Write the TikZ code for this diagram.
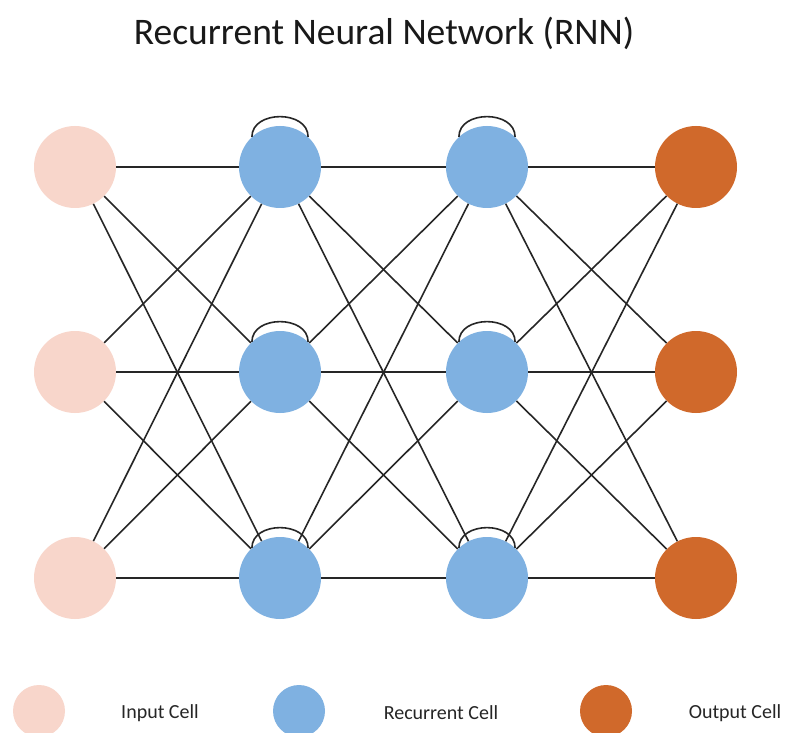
\documentclass[tikz,border=0pt]{standalone}
\usepackage{fontspec}
\setmainfont{Carlito}
\definecolor{incol}{HTML}{F8D6CB}
\definecolor{reccol}{HTML}{7FB1E1}
\definecolor{outcol}{HTML}{D0692B}
\definecolor{linecol}{HTML}{262626}
\begin{document}
\begin{tikzpicture}[x=1pt,y=-1pt,
  cell/.style={circle,minimum size=82pt,inner sep=0pt,draw=none},
  incell/.style={cell,fill=incol},
  reccell/.style={cell,fill=reccol},
  outcell/.style={cell,fill=outcol},
  legcell/.style={circle,minimum size=52pt,inner sep=0pt},
  link/.style={draw=linecol,line width=1.6pt},
  selfloop/.style={draw=linecol,line width=1.6pt},
  legtext/.style={font=\fontsize{20}{22}\selectfont,text=black!85,inner sep=0pt}]
\useasboundingbox (0,0) rectangle (785,733);
\fill[white] (0,0) rectangle (785,733);

\node[font=\fontsize{37.5}{40}\selectfont,text=black!90,inner sep=0pt] (title) at (384,33) {Recurrent Neural Network (RNN)};

% cells
\foreach \r/\yy in {1/167,2/372,3/578}{
  \node[incell]  (i\r) at (75,\yy) {};
  \node[reccell] (a\r) at (280,\yy) {};
  \node[reccell] (b\r) at (487,\yy) {};
  \node[outcell] (o\r) at (696,\yy) {};
}

% connections
\foreach \p in {1,2,3}{
  \foreach \q in {1,2,3}{
    \draw[link] (i\p) -- (a\q);
    \draw[link] (a\p) -- (b\q);
    \draw[link] (b\p) -- (o\q);
  }
}

% self loops
\foreach \n in {a1,a2,a3,b1,b2,b3}{
  \draw[selfloop] (\n.133) .. controls +(0,-27) and +(0,-27) .. (\n.47);
}

% legend
\node[legcell,fill=incol]  (l1) at (39,711) {};
\node[legtext] (t1) at (160,713) {Input Cell};
\node[legcell,fill=reccol] (l2) at (299,711) {};
\node[legtext] (t2) at (441,713) {Recurrent Cell};
\node[legcell,fill=outcol] (l3) at (606,711) {};
\node[legtext] (t3) at (735,713) {Output Cell};
\end{tikzpicture}
\end{document}
